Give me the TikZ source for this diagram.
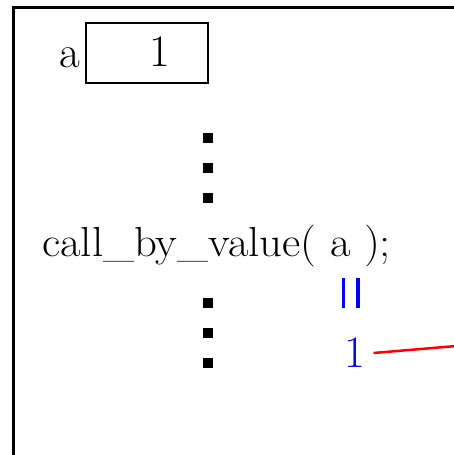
\documentclass[tikz,border=0pt]{standalone}
\usepackage{graphicx}
\begin{document}
\begin{tikzpicture}[x=1pt,y=-1pt,
  big/.style={font=\fontsize{45}{54}\selectfont, inner sep=0pt},
  mid/.style={font=\fontsize{42}{50}\selectfont, inner sep=0pt},
  dot/.style={fill=black, minimum size=10pt, inner sep=0pt, draw=none, rectangle},
  frame/.style={line width=2.4pt},
  cell/.style={draw, line width=2pt, minimum width=122pt, minimum height=60pt, inner sep=0pt}]
\useasboundingbox (0,0) rectangle (454,455);
% outer frame (cropped)
\coordinate (fr) at (480,7.5);
\coordinate (ftl) at (13.5,7.5);
\coordinate (fb) at (13.5,480);
\draw[frame] (fr) -- (ftl) -- (fb);
% variable a
\node[cell] (box) at (147,53) {};
\node[big, anchor=base] (lbl) at (70,67) {a};
\node[big] (val) at ([xshift=13pt,yshift=1pt]box.center) {1};
% dots
\node[dot] (d1) at (207.5,138) {};
\node[dot] (d2) at (207.5,168) {};
\node[dot] (d3) at (207.5,198) {};
% call
\node[mid, anchor=base west] (call) at (42,256) {\scalebox{1.065}[1]{call\_by\_value( a );}};
\node[dot] (d4) at (207.5,302.5) {};
\node[dot] (d5) at (207.5,332.5) {};
\node[dot] (d6) at (207.5,362.5) {};
% equals mark
\draw[blue, line width=3.5pt] (343.5,278) -- (343.5,308) (358,278) -- (358,308);
% copied value
\node[big, blue] (v1) at (355,353) {1};
\coordinate (off) at (480,344);
\draw[red, line width=2.5pt] ([xshift=8pt]v1.east) -- (off);
\end{tikzpicture}
\end{document}
